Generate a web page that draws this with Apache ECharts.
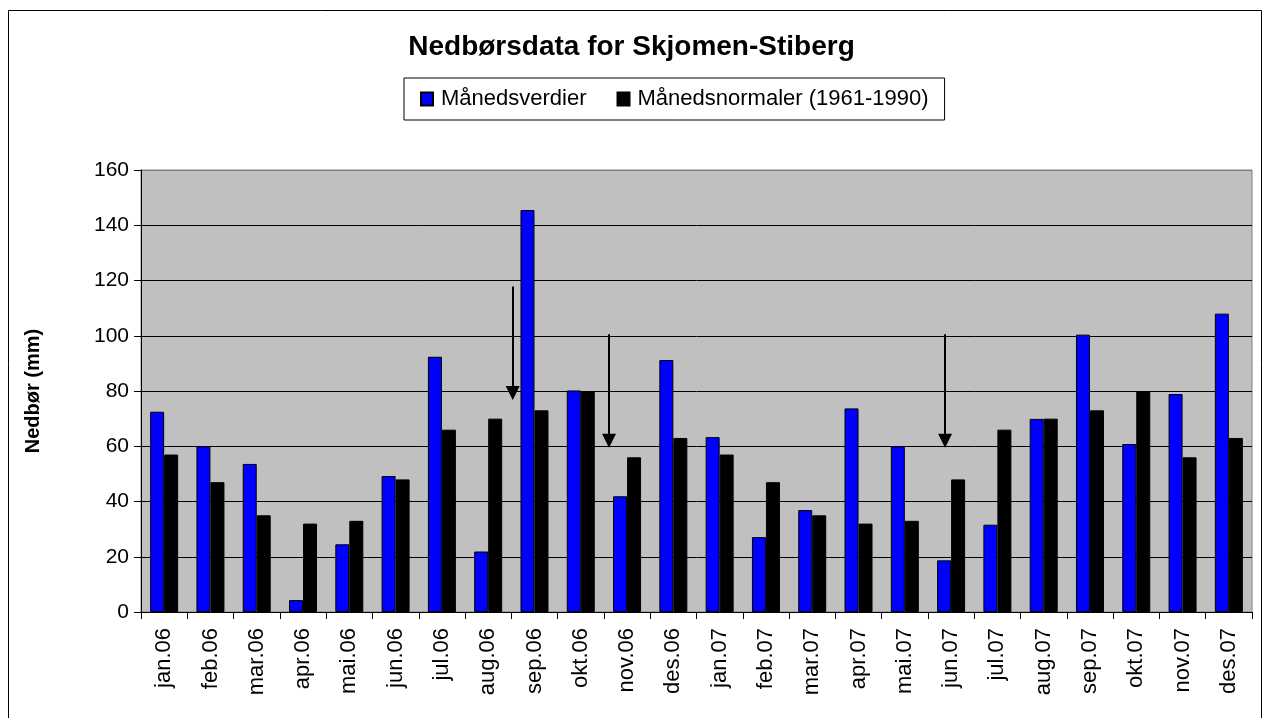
<!DOCTYPE html>
<html>
<head>
<meta charset="utf-8">
<title>Nedbørsdata for Skjomen-Stiberg</title>
<script src="https://cdn.jsdelivr.net/npm/echarts@6/dist/echarts.min.js"></script>
<style>
  html, body { margin: 0; padding: 0; background: #fff; }
  #chart { width: 1263px; height: 718px; }
</style>
</head>
<body>
<div id="chart"></div>
<script>
// kategorier (måneder)
const months = [
  'jan.06', 'feb.06', 'mar.06', 'apr.06', 'mai.06', 'jun.06',
  'jul.06', 'aug.06', 'sep.06', 'okt.06', 'nov.06', 'des.06',
  'jan.07', 'feb.07', 'mar.07', 'apr.07', 'mai.07', 'jun.07',
  'jul.07', 'aug.07', 'sep.07', 'okt.07', 'nov.07', 'des.07'
]
// månedsverdier (mm)
const monthlyValues = [
  72.5, 60, 53.6, 4.3, 24.5, 49.2, 92.4, 21.9, 145.5, 80.2, 41.9, 91.2,
  63.3, 27.1, 36.9, 73.7, 60, 18.7, 31.6, 69.9, 100.4, 60.8, 78.9, 108
]
// månedsnormaler 1961-1990 (mm)
const monthlyNormals = [
  57, 47, 35, 32, 33, 48, 66, 70, 73, 80, 56, 63,
  57, 47, 35, 32, 33, 48, 66, 70, 73, 80, 56, 63
]
const yTicks = [0, 20, 40, 60, 80, 100, 120, 140, 160]
// piler: [x (kategoriindeks), y start, y slutt]
const arrows = [
  [7.53, 117.8, 79.3],
  [9.61, 100.5, 62],
  [16.87, 100.5, 62]
]

const chart = echarts.init(document.getElementById('chart'))
const font = 'Liberation Sans, Arial, sans-serif'

// splitLine: grå øverst (rammen), ellers svart
const splitColors = yTicks.map((t, i) => (i === yTicks.length - 1 ? '#808080' : '#000'))

const option = {
  animation: false,
  backgroundColor: '#fff',
  textStyle: { fontFamily: font },
  graphic: [
    {
      type: 'rect',
      shape: { x: 8.5, y: 10.5, width: 1253, height: 800 },
      style: { fill: 'none', stroke: '#000', lineWidth: 1 },
      silent: true
    }
  ],
  title: {
    text: 'Nedbørsdata for Skjomen-Stiberg',
    left: 'center',
    top: 28,
    textStyle: { fontFamily: font, fontSize: 28, fontWeight: 'bold', color: '#000' }
  },
  legend: {
    data: ['Månedsverdier', 'Månedsnormaler (1961-1990)'],
    left: 404,
    top: 78,
    padding: [10, 16],
    itemWidth: 12,
    itemHeight: 13,
    itemGap: 30,
    borderColor: '#000',
    borderWidth: 1,
    icon: 'rect',
    textStyle: { fontFamily: font, fontSize: 22, color: '#000', padding: [0, 0, 0, 3] }
  },
  grid: {
    left: 141,
    right: 11,
    top: 170,
    bottom: 106,
    show: true,
    backgroundColor: '#c0c0c0',
    borderColor: '#808080',
    borderWidth: 1
  },
  xAxis: [
    {
      type: 'category',
      data: months,
      axisLine: { lineStyle: { color: '#000', width: 1 } },
      axisTick: { show: true, length: 7, alignWithLabel: false, lineStyle: { color: '#000' } },
      axisLabel: {
        rotate: 90,
        margin: 16,
        fontFamily: font,
        fontSize: 22,
        color: '#000',
        interval: 0
      }
    },
    {
      // skjult verdiakse for pilene
      type: 'value',
      min: -0.5,
      max: months.length - 0.5,
      show: false
    }
  ],
  yAxis: {
    type: 'value',
    min: 0,
    max: 160,
    interval: 20,
    name: 'Nedbør (mm)',
    nameLocation: 'middle',
    nameGap: 98,
    nameTextStyle: { fontFamily: font, fontSize: 20, fontWeight: 'bold', color: '#000' },
    axisLine: { show: true, onZero: false, lineStyle: { color: '#000' } },
    axisTick: { show: true, length: 7, lineStyle: { color: '#000' } },
    axisLabel: { fontFamily: font, fontSize: 21, color: '#000', margin: 12 },
    splitLine: { show: true, lineStyle: { color: splitColors, width: 1 } }
  },
  series: [
    {
      name: 'Månedsverdier',
      type: 'bar',
      data: monthlyValues,
      barWidth: 14,
      barGap: '0%',
      itemStyle: { color: '#0000ff', borderColor: '#000', borderWidth: 1 }
    },
    {
      name: 'Månedsnormaler (1961-1990)',
      type: 'bar',
      data: monthlyNormals,
      barWidth: 14,
      barGap: '0%',
      itemStyle: { color: '#000', borderColor: '#000', borderWidth: 1 }
    },
    {
      name: 'piler',
      type: 'line',
      xAxisIndex: 1,
      data: [],
      silent: true,
      markLine: {
        silent: true,
        symbol: ['none', 'triangle'],
        symbolSize: [14, 14],
        label: { show: false },
        lineStyle: { color: '#000', width: 2, type: 'solid' },
        data: arrows.map(a => [
          { coord: [a[0], a[1]] },
          { coord: [a[0], a[2]] }
        ])
      }
    }
  ]
}

chart.setOption(option)
</script>
</body>
</html>
